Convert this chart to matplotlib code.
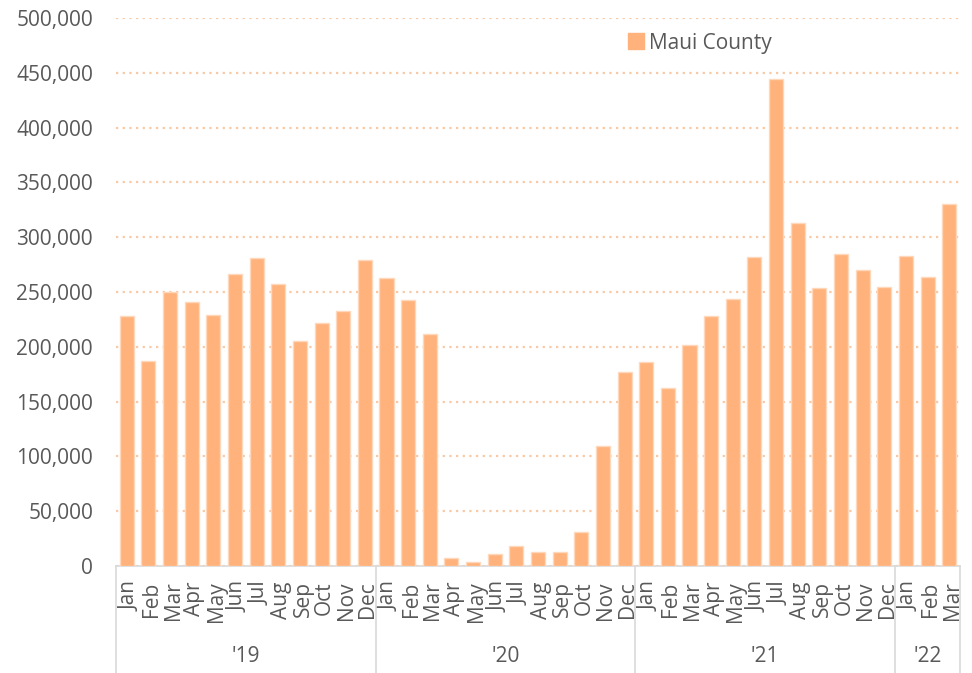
import matplotlib
matplotlib.use("Agg")
import matplotlib.pyplot as plt
from matplotlib.lines import Line2D
from matplotlib.transforms import blended_transform_factory, ScaledTranslation
from matplotlib.ticker import FuncFormatter

months = ["Jan", "Feb", "Mar", "Apr", "May", "Jun", "Jul", "Aug", "Sep", "Oct", "Nov", "Dec"]
years = ["'19", "'20", "'21", "'22"]
months_per_year = [12, 12, 12, 3]
values_2019 = [228000, 187000, 250000, 241000, 229000, 266000, 281000, 257000, 205000, 222000, 233000, 279000]
values_2020 = [263000, 243000, 212000, 7600, 3400, 10700, 18300, 12500, 12800, 31400, 109500, 177000]
values_2021 = [186000, 162000, 201500, 228500, 244000, 281500, 444000, 313000, 253600, 284700, 270000, 254600]
values_2022 = [282800, 263700, 330000]
series_name = "Maui County"

values = values_2019 + values_2020 + values_2021 + values_2022
labels = []
for n in months_per_year:
    labels += months[:n]

plt.rcParams['font.family'] = ['Open Sans', 'DejaVu Sans']
text_color = "#595959"
bar_color = "#FFB27B"
fs = 15
W, H = 972, 673
fig = plt.figure(figsize=(W / 100, H / 100), dpi=100)
ax = fig.add_axes([116 / W, (H - 566) / H, (960 - 116) / W, (566 - 18) / H])

x = list(range(len(values)))
ax.bar(x, values, width=0.65, color=bar_color, edgecolor="#FFD8BC", linewidth=1.0, zorder=3)
ax.set_xlim(-0.5, len(values) - 0.5)
ax.set_ylim(0, 500000)
ax.set_yticks(range(0, 500001, 50000))
ax.yaxis.set_major_formatter(FuncFormatter(lambda v, p: f"{int(v):,}"))
ax.grid(axis="y", linestyle=(0, (1, 2)), color="#F9C9A6", linewidth=1.6, zorder=0)
ax.tick_params(axis="y", length=0, pad=16.5, labelsize=fs, labelcolor=text_color)
ax.set_xticks(x)
ax.set_xticklabels(labels, rotation=90, fontsize=fs, color=text_color)
ax.tick_params(axis="x", length=0, pad=11)
shift = ScaledTranslation(3 / 100, 0, fig.dpi_scale_trans)
for lbl in ax.get_xticklabels():
    lbl.set_transform(lbl.get_transform() + shift)
for s in ["top", "right", "left"]:
    ax.spines[s].set_visible(False)
ax.spines["bottom"].set_color("#D9D9D9")
ax.spines["bottom"].set_linewidth(1.2)

trans = blended_transform_factory(ax.transData, fig.transFigure)
bottom_frac = (H - 566) / H
start = -0.5
bounds = [start]
for yr, n in zip(years, months_per_year):
    end = start + n
    ax.text((start + end) / 2, (H - 657) / H, yr, transform=trans, ha="center", va="center",
            fontsize=fs, color=text_color)
    bounds.append(end)
    start = end
for b in bounds:
    ax.add_line(Line2D([b, b], [bottom_frac, 0], transform=trans, color="#D9D9D9",
                       linewidth=1.2, clip_on=False))

handle = Line2D([], [], marker="s", linestyle="none", markersize=11, color=bar_color)
ax.legend([handle], [series_name], loc="center left", bbox_to_anchor=(628 / W, 1 - 43 / H),
          bbox_transform=fig.transFigure, frameon=False, fontsize=fs, labelcolor=text_color,
          handlelength=0.8, handletextpad=0.2, borderpad=0, borderaxespad=0)

fig.savefig("out.png", dpi=100)
